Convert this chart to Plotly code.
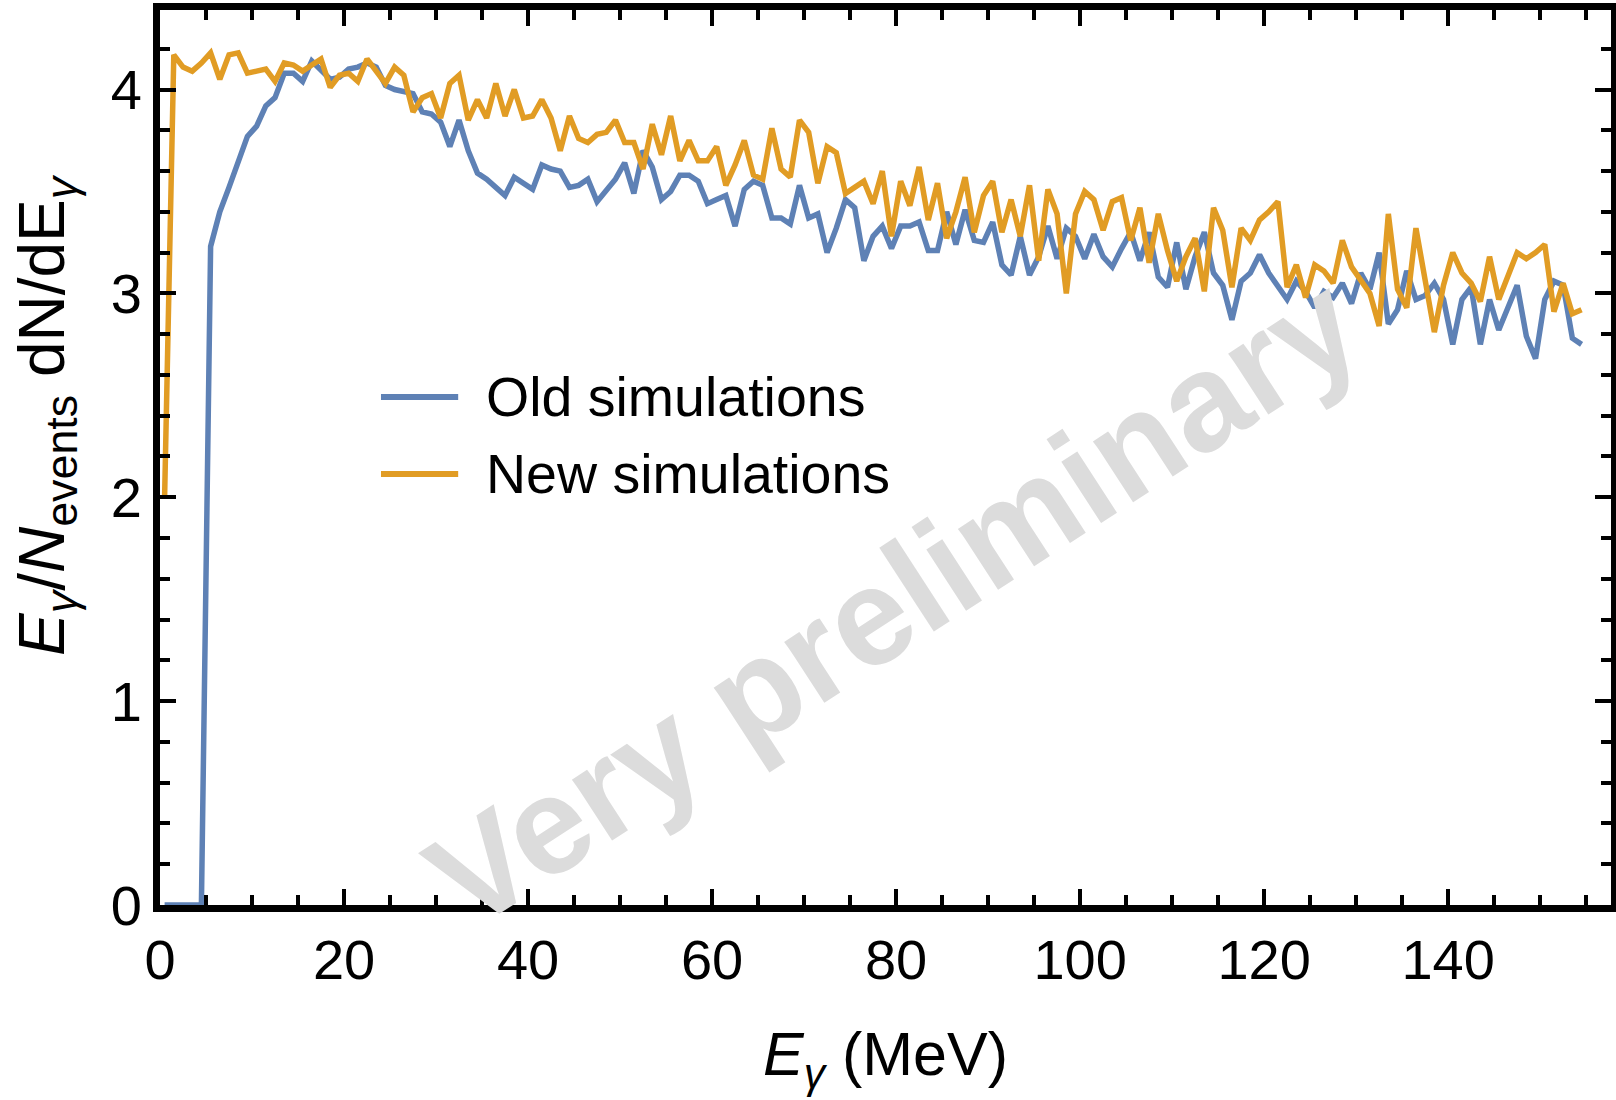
import plotly.graph_objects as go

# Bin centres (MeV)
energy = [i + 0.5 for i in range(155)]

old_sim = [
    0, 0, 0, 0, 0, 3.23, 3.40, 3.52, 3.65, 3.77,
    3.82, 3.92, 3.96, 4.08, 4.08, 4.04, 4.14, 4.09, 4.05, 4.06,
    4.10, 4.11, 4.13, 4.11, 4.02, 4.00, 3.99, 3.98, 3.89, 3.88,
    3.84, 3.72, 3.85, 3.70, 3.59, 3.56, 3.52, 3.48, 3.57, 3.54,
    3.51, 3.63, 3.61, 3.60, 3.52, 3.53, 3.56, 3.45, 3.50, 3.56,
    3.64, 3.49, 3.70, 3.62, 3.46, 3.50, 3.58, 3.58, 3.55, 3.44,
    3.46, 3.48, 3.33, 3.51, 3.55, 3.53, 3.37, 3.37, 3.34, 3.53,
    3.37, 3.39, 3.20, 3.32, 3.46, 3.42, 3.16, 3.28, 3.33, 3.22,
    3.33, 3.33, 3.35, 3.21, 3.21, 3.40, 3.24, 3.41, 3.26, 3.25,
    3.35, 3.14, 3.09, 3.28, 3.09, 3.18, 3.33, 3.17, 3.32, 3.28,
    3.17, 3.29, 3.18, 3.13, 3.22, 3.30, 3.16, 3.30, 3.08, 3.03,
    3.25, 3.02, 3.18, 3.30, 3.10, 3.04, 2.87, 3.06, 3.10, 3.19,
    3.10, 3.03, 2.97, 3.06, 3.01, 2.93, 3.01, 2.98, 3.05, 2.95,
    3.10, 3.02, 3.20, 2.85, 2.92, 3.11, 2.97, 2.99, 3.05, 2.97,
    2.75, 2.97, 3.03, 2.75, 2.97, 2.82, 2.93, 3.04, 2.79, 2.68,
    2.97, 3.06, 3.04, 2.78, 2.75,
]

new_sim = [
    2.00, 4.17, 4.11, 4.09, 4.13, 4.18, 4.05, 4.17, 4.18, 4.08,
    4.09, 4.10, 4.04, 4.13, 4.12, 4.09, 4.12, 4.15, 4.01, 4.07,
    4.08, 4.04, 4.15, 4.09, 4.03, 4.11, 4.07, 3.89, 3.96, 3.98,
    3.86, 4.03, 4.07, 3.85, 3.95, 3.86, 4.03, 3.87, 4.00, 3.86,
    3.87, 3.95, 3.86, 3.70, 3.87, 3.76, 3.74, 3.78, 3.79, 3.85,
    3.74, 3.74, 3.61, 3.83, 3.68, 3.87, 3.65, 3.75, 3.65, 3.65,
    3.72, 3.53, 3.63, 3.75, 3.58, 3.56, 3.81, 3.61, 3.57, 3.85,
    3.79, 3.54, 3.72, 3.69, 3.49, 3.52, 3.55, 3.44, 3.60, 3.28,
    3.55, 3.43, 3.62, 3.36, 3.54, 3.27, 3.40, 3.57, 3.30, 3.48,
    3.55, 3.30, 3.46, 3.28, 3.53, 3.16, 3.51, 3.39, 3.00, 3.39,
    3.50, 3.46, 3.31, 3.45, 3.47, 3.26, 3.42, 3.15, 3.39, 3.21,
    3.06, 3.18, 3.27, 3.01, 3.42, 3.31, 3.03, 3.32, 3.26, 3.36,
    3.40, 3.45, 3.03, 3.14, 2.98, 3.14, 3.11, 3.05, 3.26, 3.13,
    3.06, 3.00, 2.84, 3.39, 3.02, 2.93, 3.32, 3.08, 2.81, 3.04,
    3.20, 3.10, 3.05, 2.96, 3.18, 2.97, 3.09, 3.20, 3.17, 3.20,
    3.24, 2.91, 3.05, 2.90, 2.92,
]

series_names = ["Old simulations", "New simulations"]
series_colors = ["#5e81b5", "#e19c24"]

x_ticks = [0, 20, 40, 60, 80, 100, 120, 140]
y_ticks = [0, 1, 2, 3, 4]

x_title = "<i>E</i><sub><i>γ</i></sub> (MeV)"
y_title = "<i>E</i><sub><i>γ</i></sub>/<i>N</i><sub>events</sub> dN/dE<sub><i>γ</i></sub>"

FONT = "Liberation Sans, Arial, Helvetica, sans-serif"

fig = go.Figure()
for name, ys, col in zip(series_names, [old_sim, new_sim], series_colors):
    fig.add_trace(go.Scatter(x=energy, y=ys, mode="lines", name=name,
                             line=dict(color=col, width=5.5), showlegend=False))

axis_common = dict(
    showline=True, linewidth=7, linecolor="black", mirror="allticks",
    ticks="inside", ticklen=16, tickwidth=4, tickcolor="black",
    showgrid=False, zeroline=False,
    tickfont=dict(family=FONT, size=56, color="black"),
)

fig.update_xaxes(
    **axis_common, range=[0, 157.7], tickvals=x_ticks,
    minor=dict(dtick=5, ticks="inside", ticklen=10, tickwidth=4, tickcolor="black", showgrid=False),
)
fig.update_yaxes(
    **axis_common, range=[0, 4.39], tickvals=y_ticks,
    minor=dict(dtick=0.2, ticks="inside", ticklen=10, tickwidth=4, tickcolor="black", showgrid=False),
)

# Axis titles placed as annotations for exact positioning
fig.add_annotation(xref="paper", yref="paper", x=0.5, y=-0.172, text=x_title,
                   showarrow=False, xanchor="center", yanchor="middle",
                   font=dict(family=FONT, size=61, color="black"))
fig.add_annotation(xref="paper", yref="paper", x=-0.0786, y=0.5475, text=y_title,
                   showarrow=False, textangle=-90, xanchor="center", yanchor="middle",
                   font=dict(family=FONT, size=64, color="black"))

# Legend (manual, to match long legend swatches)
legend_y = [0.5676, 0.4816]
for name, col, ly in zip(series_names, series_colors, legend_y):
    fig.add_shape(type="line", xref="paper", yref="paper", x0=0.1523, x1=0.2055,
                  y0=ly, y1=ly, line=dict(color=col, width=6))
    fig.add_annotation(xref="paper", yref="paper", x=0.2233, y=ly, text=name,
                       showarrow=False, xanchor="left", yanchor="middle",
                       font=dict(family=FONT, size=55.5, color="black"))

# Watermark
fig.add_annotation(xref="paper", yref="paper", x=0.505, y=0.34, text="<b>Very preliminary</b>",
                   showarrow=False, textangle=-33, xanchor="center", yanchor="middle",
                   font=dict(family=FONT, size=138, color="#dcdcdc"))

fig.update_layout(
    width=1616, height=1100,
    margin=dict(l=160, r=5, t=10, b=195, autoexpand=False),
    paper_bgcolor="white", plot_bgcolor="white",
    font=dict(family=FONT, color="black"),
)

fig.write_html("out.html")
